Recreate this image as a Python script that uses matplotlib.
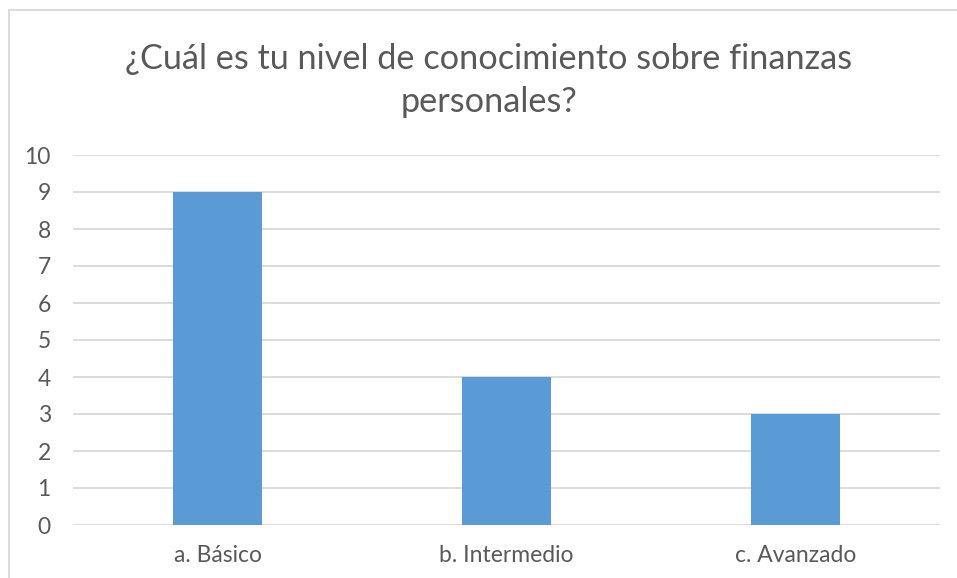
import matplotlib
matplotlib.use("Agg")
import matplotlib.pyplot as plt
from matplotlib.patches import Rectangle

categories = ["a. Básico", "b. Intermedio", "c. Avanzado"]
values = [9, 4, 3]
yticks = list(range(0, 11))
title = "¿Cuál es tu nivel de conocimiento sobre finanzas\npersonales?"

plt.rcParams['font.family'] = ['Lato', 'DejaVu Sans']
W, H = 957, 578
fig = plt.figure(figsize=(W/100, H/100), dpi=100)

# outer chart border (left and top visible)
fig.patches.append(Rectangle((9/W, -0.1), 1.2, (H-10)/H + 0.1, transform=fig.transFigure,
                             fill=False, edgecolor='#d9d9d9', linewidth=1.3))

left, right, top, bottom = 73, 940, 155, 525
ax = fig.add_axes([left/W, 1-bottom/H, (right-left)/W, (bottom-top)/H])
x = range(len(categories))
ax.bar(x, values, width=0.31, color='#5b9bd5', zorder=3)
ax.set_xlim(-0.5, len(categories)-0.5)
ax.set_ylim(0, 10)
ax.set_yticks(yticks)
ax.set_xticks(list(x))
ax.set_xticklabels(categories)
ax.grid(axis='y', color='#d9d9d9', linewidth=1.3, zorder=0)
for s in ax.spines.values():
    s.set_visible(False)
ax.tick_params(axis='both', length=0, labelsize=16.5, colors='#595959')
ax.tick_params(axis='x', pad=14.5)
ax.tick_params(axis='y', pad=16)

fig.text(489/W, 1-80.5/H, title, ha='center', va='center', fontsize=24.7,
         color='#595959', linespacing=1.45)

fig.savefig("out.png", dpi=100, facecolor='white')
